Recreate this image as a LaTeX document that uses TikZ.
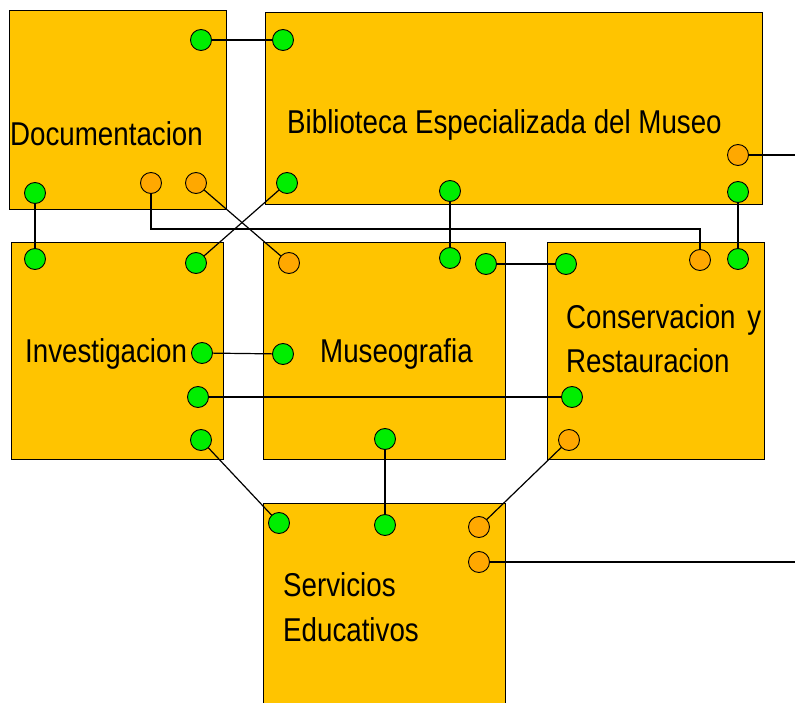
\documentclass[tikz,border=0pt]{standalone}
\usepackage{fontspec}
\setmainfont[FakeStretch=0.84]{Liberation Sans}
\definecolor{boxfill}{RGB}{255,196,0}
\definecolor{portgreen}{RGB}{0,238,0}
\definecolor{portorange}{RGB}{255,168,0}
\pgfdeclarelayer{boxlayer}
\pgfdeclarelayer{wirelayer}
\pgfsetlayers{boxlayer,wirelayer,main}
\begin{document}
\begin{tikzpicture}[x=1pt,y=-1pt,
  box/.style={draw=black, line width=1.3pt, fill=boxfill, anchor=north west, inner sep=0pt},
  gp/.style={circle, draw=black, line width=0.9pt, fill=portgreen, minimum size=21pt, inner sep=0pt},
  op/.style={gp, fill=portorange},
  wire/.style={draw=black, line width=1.2pt},
  lbl/.style={anchor=base west, inner sep=0pt, font=\fontsize{33}{44}\selectfont}]
\useasboundingbox (0,0) rectangle (795,703);
\clip (0,0) rectangle (795,703);

\begin{pgfonlayer}{boxlayer}
\fill[white] (0,0) rectangle (795,703);
\node[box, minimum width=217pt, minimum height=199pt] (doc) at (9,10) {};
\node[box, minimum width=497pt, minimum height=192pt] (bib) at (265,12) {};
\node[box, minimum width=212pt, minimum height=217pt] (inv) at (11,242) {};
\node[box, minimum width=242pt, minimum height=217pt] (mus) at (263,242) {};
\node[box, minimum width=217pt, minimum height=217pt] (con) at (547,242) {};
\node[box, minimum width=242pt, minimum height=230pt] (ser) at (263,503) {};
\end{pgfonlayer}

% labels
\node[lbl] (tdoc) at (10,146) {Documentacion};
\node[lbl] (tbib) at (287,134) {Biblioteca Especializada del Museo};
\node[lbl] (tinv) at (25,362) {Investigacion};
\node[lbl] (tmus) at (320,362) {Museografia};
\node[lbl] (tcon1) at (566,328) {Conservacion\hspace{4pt} y};
\node[lbl] (tcon2) at (566,372) {Restauracion};
\node[lbl] (tser1) at (283,596) {Servicios};
\node[lbl] (tser2) at (283,641) {Educativos};

% ports
\node[gp] (dg1) at (201,40) {};
\node[gp] (dg2) at (35,193) {};
\node[op] (do1) at (151,183) {};
\node[op] (do2) at (196,183) {};

\node[gp] (bg1) at (283,40) {};
\node[gp] (bg2) at (287,183) {};
\node[gp] (bg3) at (450,191) {};
\node[op] (bo1) at (738,155) {};
\node[gp] (bg4) at (738,192) {};

\node[gp] (ig1) at (35,259) {};
\node[gp] (ig2) at (196,263) {};
\node[gp] (ig3) at (202,353) {};
\node[gp] (ig4) at (198,397) {};
\node[gp] (ig5) at (201,440) {};

\node[op] (mo1) at (289,263) {};
\node[gp] (mg1) at (450,258) {};
\node[gp] (mg2) at (486,264) {};
\node[gp] (mg3) at (283,354) {};
\node[gp] (mg4) at (385,439) {};

\node[gp] (cg1) at (566,264) {};
\node[op] (co1) at (700,260) {};
\node[gp] (cg2) at (738,259) {};
\node[gp] (cg3) at (572,397) {};
\node[op] (co2) at (569,440) {};

\node[gp] (sg1) at (279,523) {};
\node[gp] (sg2) at (385,525) {};
\node[op] (so1) at (479,527) {};
\node[op] (so2) at (479,562) {};

\coordinate (j3) at (700,229);
\coordinate (e1) at (795,155);
\coordinate (e2) at (795,562);

% connectors
\begin{pgfonlayer}{wirelayer}
\draw[wire] (dg1.center) -- (bg1.center);
\draw[wire] (dg2.center) -- (ig1.center);
\draw[wire] (do1.center) |- (j3) -- (co1.center);
\draw[wire] (do2.center) -- (mo1.center);
\draw[wire] (bg2.center) -- (ig2.center);
\draw[wire] (bg3.center) -- (mg1.center);
\draw[wire] (bg4.center) -- (cg2.center);
\draw[wire] (bo1.center) -- (e1);
\draw[wire] (mg2.center) -- (cg1.center);
\draw[wire] (ig3.center) -- (mg3.center);
\draw[wire] (ig4.center) -- (cg3.center);
\draw[wire] (ig5.center) -- (sg1.center);
\draw[wire] (mg4.center) -- (sg2.center);
\draw[wire] (co2.center) -- (so1.center);
\draw[wire] (so2.center) -- (e2);
\end{pgfonlayer}
\end{tikzpicture}
\end{document}
